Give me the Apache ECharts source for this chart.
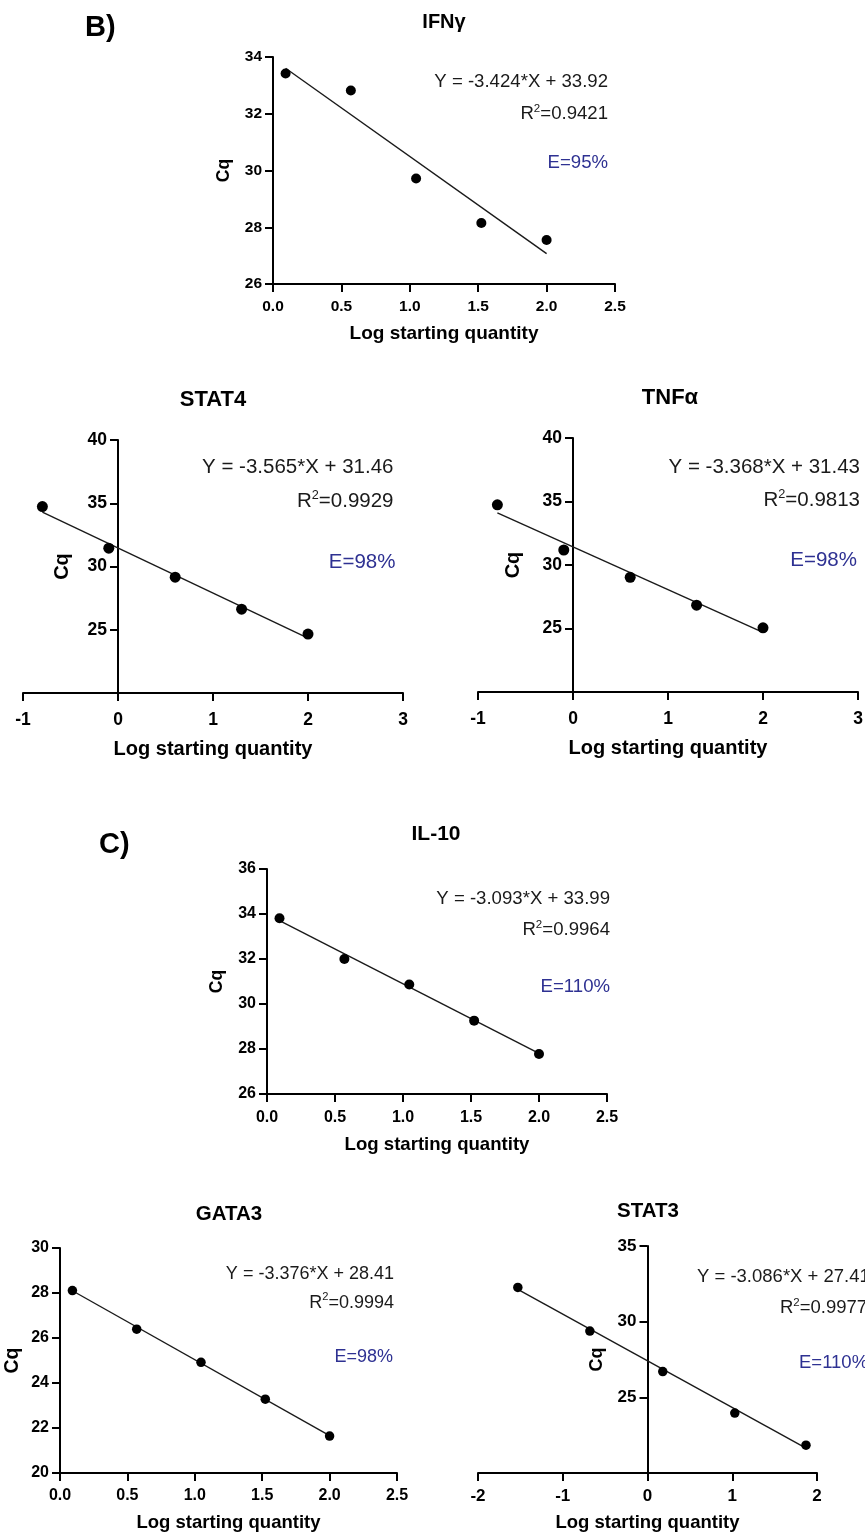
<!DOCTYPE html>
<html>
<head>
<meta charset="utf-8">
<script src="https://cdn.jsdelivr.net/npm/echarts@6/dist/echarts.min.js"></script>
<style>
  html, body { margin: 0; padding: 0; background: #fff; }
  #chart { width: 865px; height: 1532px; }
</style>
</head>
<body>
<div id="chart"></div>
<script>
// qPCR standard curves: Cq against log starting quantity, with linear fits

const panelNames = ['IFNγ', 'STAT4', 'TNFα', 'IL-10', 'GATA3', 'STAT3'];
const sectionLabels = ['B)', 'C)'];
const xAxisTitle = 'Log starting quantity';
const yAxisTitle = 'Cq';

const ifngX  = [0.092, 0.569, 1.046, 1.523, 2.0];
const ifngY  = [33.42, 32.82, 29.72, 28.15, 27.55];
const stat4X = [-0.796, -0.097, 0.602, 1.301, 2.0];
const stat4Y = [34.74, 31.45, 29.16, 26.63, 24.66];
const tnfaX  = [-0.796, -0.097, 0.602, 1.301, 2.0];
const tnfaY  = [34.74, 31.18, 29.03, 26.84, 25.05];
const il10X  = [0.092, 0.569, 1.046, 1.523, 2.0];
const il10Y  = [33.81, 32.00, 30.87, 29.26, 27.78];
const gata3X = [0.092, 0.569, 1.046, 1.523, 2.0];
const gata3Y = [28.11, 26.39, 24.92, 23.28, 21.64];
const stat3X = [-1.53, -0.68, 0.18, 1.03, 1.87];
const stat3Y = [32.26, 29.38, 26.70, 23.96, 21.84];

const fitSlopes     = [-3.424, -3.565, -3.368, -3.093, -3.376, -3.086];
const fitIntercepts = [33.92, 31.46, 31.43, 33.99, 28.41, 27.41];
const fitR2         = ['0.9421', '0.9929', '0.9813', '0.9964', '0.9994', '0.9977'];
const efficiencies  = ['95%', '98%', '98%', '110%', '98%', '110%'];

// [min, max, interval]
const xScales = [[0, 2.5, 0.5], [-1, 3, 1], [-1, 3, 1], [0, 2.5, 0.5], [0, 2.5, 0.5], [-2, 2, 1]];
const yScales = [[26, 34, 2], [20, 40, 5], [20, 40, 5], [26, 36, 2], [20, 30, 2], [20, 35, 5]];
// y value whose label is left blank where the x axis crosses
const yBlankLabel = [null, 20, 20, null, null, 20];

const xData = [ifngX, stat4X, tnfaX, il10X, gata3X, stat3X];
const yData = [ifngY, stat4Y, tnfaY, il10Y, gata3Y, stat3Y];

// ---- layout and styling ----
const FONT = "'Liberation Sans', Arial, Helvetica, sans-serif";
const NAVY = '#2e3192';
const layout = [
  { grid: [273, 57, 342, 227],  tick: 15.5, xDec: 1, title: [444, 22, 20],   text: { x: [608, 608, 608], y: [81.7, 114.3, 162.7], fs: 18.6, align: 'right' },   cq: [17.5, 40], xname: [19, 40], margin: 15, dot: 10 },
  { grid: [23, 440, 380, 253],  tick: 17.5, xDec: 0, title: [213, 400, 22],  text: { x: [393.5, 393.5, 395.5], y: [467.3, 501.7, 562.7], fs: 20.5, align: 'right' }, cq: [20, 46], xname: [20, 46], margin: 18, dot: 11 },
  { grid: [478, 438, 380, 254], tick: 17.5, xDec: 0, title: [670, 398, 22],  text: { x: [860, 860, 857], y: [467.3, 500, 560], fs: 20.5, align: 'right' },      cq: [20, 50], xname: [20, 46], margin: 18, dot: 11 },
  { grid: [267, 869, 340, 225], tick: 16,   xDec: 1, title: [436, 834, 21],  text: { x: [610, 610, 610], y: [899.3, 930, 986.7], fs: 18.6, align: 'right' },  cq: [17.5, 41], xname: [18.6, 41], margin: 15.5, dot: 10 },
  { grid: [60, 1248, 337, 225], tick: 16,   xDec: 1, title: [229, 1214, 20.5], text: { x: [394, 394, 393], y: [1274, 1302.7, 1356.7], fs: 18, align: 'right' }, cq: [19.5, 37], xname: [18.5, 40], margin: 14.5, dot: 9.5 },
  { grid: [478, 1246, 339, 227], tick: 17,  xDec: 0, title: [648, 1211, 20.5], text: { x: [697, 780, 799], y: [1277.3, 1308.3, 1362.7], fs: 18.5, align: 'left' }, cq: [18, 41], xname: [18.5, 40], margin: 14.5, dot: 9.5 }
];
const sectionPos = [[85, 28, 29], [99, 845, 29]];

const grids = [], xAxes = [], yAxes = [], series = [], graphics = [];

function textEl(x, y, text, fs, opts) {
  opts = opts || {};
  const align = opts.align || 'center';
  return {
    type: 'text', x: x, y: y, silent: true,
    style: Object.assign({
      text: text,
      fill: opts.color || '#000',
      fontSize: fs,
      fontWeight: opts.bold ? 'bold' : 'normal',
      fontFamily: FONT,
      textAlign: align, align: align,
      textVerticalAlign: 'middle', verticalAlign: 'middle'
    }, opts.extra || {})
  };
}

panelNames.forEach(function (name, i) {
  const L = layout[i];
  const xs = xScales[i], ys = yScales[i];
  grids.push({ left: L.grid[0], top: L.grid[1], width: L.grid[2], height: L.grid[3], containLabel: false, outerBoundsMode: 'none' });

  const lineStyle = { color: '#000', width: 2 };
  const axisTick = { show: true, inside: false, length: 8, lineStyle: lineStyle };

  // the y axis stands at x = 0 whenever the x range spans zero
  const yOffset = xs[0] < 0 ? -(0 - xs[0]) / (xs[1] - xs[0]) * L.grid[2] : 0;

  xAxes.push({
    type: 'value', gridIndex: i, min: xs[0], max: xs[1], interval: xs[2],
    axisLine: { show: true, onZero: false, lineStyle: lineStyle },
    axisTick: axisTick, splitLine: { show: false },
    axisLabel: {
      show: true, margin: L.margin, color: '#000', fontWeight: 'bold', fontFamily: FONT, fontSize: L.tick,
      showMinLabel: true, showMaxLabel: true,
      formatter: function (v) { return v.toFixed(L.xDec); }
    },
    name: xAxisTitle, nameLocation: 'middle', nameGap: L.xname[1],
    nameTextStyle: { color: '#000', fontWeight: 'bold', fontFamily: FONT, fontSize: L.xname[0] }
  });

  yAxes.push({
    type: 'value', gridIndex: i, min: ys[0], max: ys[1], interval: ys[2],
    position: 'left', offset: yOffset,
    axisLine: { show: true, onZero: false, lineStyle: lineStyle },
    axisTick: axisTick, splitLine: { show: false },
    axisLabel: {
      show: true, margin: 11, color: '#000', fontWeight: 'bold', fontFamily: FONT, fontSize: L.tick,
      showMinLabel: true, showMaxLabel: true,
      formatter: function (v) { return v === yBlankLabel[i] ? '' : String(v); }
    },
    name: yAxisTitle, nameLocation: 'middle', nameGap: L.cq[1], nameRotate: 90,
    nameTextStyle: { color: '#000', fontWeight: 'bold', fontFamily: FONT, fontSize: L.cq[0] }
  });

  // fitted line drawn from the stated slope and intercept over the data range
  const x0 = Math.min.apply(null, xData[i]), x1 = Math.max.apply(null, xData[i]);
  const m = fitSlopes[i], b = fitIntercepts[i];
  series.push({
    type: 'line', xAxisIndex: i, yAxisIndex: i, symbol: 'none', silent: true, z: 2,
    lineStyle: { color: '#1a1a1a', width: 1.4 },
    data: [[x0, b + m * x0], [x1, b + m * x1]]
  });
  series.push({
    type: 'scatter', xAxisIndex: i, yAxisIndex: i, symbol: 'circle', symbolSize: L.dot, z: 3,
    itemStyle: { color: '#000', opacity: 1 },
    data: xData[i].map(function (x, k) { return [x, yData[i][k]]; })
  });

  // panel title
  graphics.push(textEl(L.title[0], L.title[1], name, L.title[2], { bold: true }));

  // fit annotations
  const T = L.text;
  const eq = 'Y = ' + m.toFixed(3) + '*X + ' + b.toFixed(2);
  graphics.push(textEl(T.x[0], T.y[0], eq, T.fs, { align: T.align, color: '#1a1a1a' }));
  graphics.push(textEl(T.x[1], T.y[1], '{n|R}{s|2}{n|=' + fitR2[i] + '}', T.fs, {
    align: T.align, color: '#1a1a1a',
    extra: {
      rich: {
        n: { fontSize: T.fs, fontFamily: FONT, fill: '#1a1a1a', lineHeight: T.fs * 1.2 },
        s: { fontSize: T.fs * 0.62, fontFamily: FONT, fill: '#1a1a1a', verticalAlign: 'top', lineHeight: T.fs * 1.2 }
      }
    }
  }));
  graphics.push(textEl(T.x[2], T.y[2], 'E=' + efficiencies[i], T.fs, { align: T.align, color: NAVY }));
});

sectionLabels.forEach(function (s, k) {
  const p = sectionPos[k];
  graphics.push(textEl(p[0], p[1], s, p[2], { bold: true, align: 'left' }));
});

const chart = echarts.init(document.getElementById('chart'), null, { renderer: 'canvas', width: 865, height: 1532 });
chart.setOption({
  animation: false,
  backgroundColor: '#fff',
  grid: grids,
  xAxis: xAxes,
  yAxis: yAxes,
  series: series,
  graphic: { elements: graphics }
});
</script>
</body>
</html>
